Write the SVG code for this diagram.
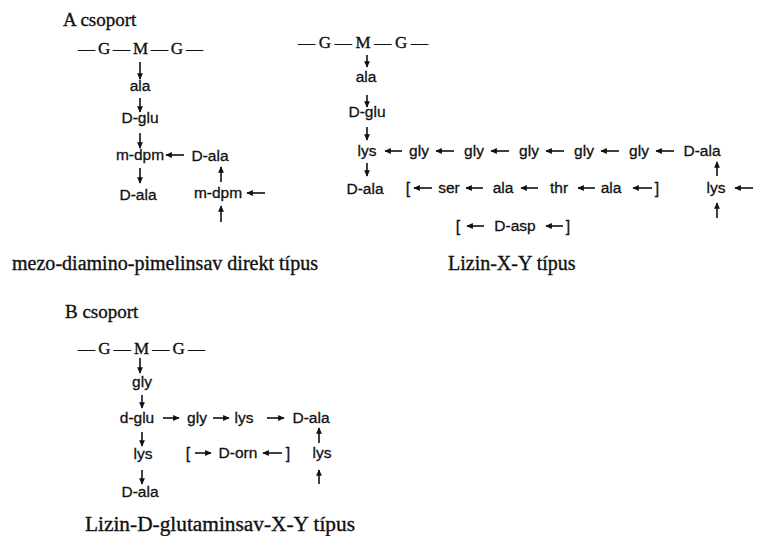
<svg xmlns="http://www.w3.org/2000/svg" width="758" height="536" viewBox="0 0 758 536">
<defs>
<marker id="ah" viewBox="0 0 10 10" refX="9" refY="5" markerWidth="6.5" markerHeight="6.5" markerUnits="userSpaceOnUse" orient="auto">
<path d="M0,0.5 L10,5 L0,9.5 z" fill="#111"/>
</marker>
<style>
.lbl{font-family:"Liberation Sans","DejaVu Sans",sans-serif;font-size:15.5px;fill:#111;stroke:#111;stroke-width:0.3;text-anchor:middle}
.br{font-family:"Liberation Sans","DejaVu Sans",sans-serif;font-size:16px;fill:#111;stroke:#111;stroke-width:0.3;text-anchor:middle}
.ser{font-family:"Liberation Serif","DejaVu Serif",serif;fill:#111;stroke:#111;stroke-width:0.35}
.head{font-size:19px}
.gmg{font-size:17px}
.cap{font-size:20px}
.conn line{stroke:#111;stroke-width:1.6;marker-end:url(#ah)}
</style>
</defs>
<rect width="758" height="536" fill="#fff"/>

<!-- Panel A, left -->
<g id="titleA"><text class="ser head" x="63" y="26">A csoport</text></g>
<g id="gmg1"><text class="ser gmg" x="78" y="54" textLength="125" lengthAdjust="spacing">—G—M—G—</text></g>
<g id="a1_ala"><text class="lbl" x="140" y="91">ala</text></g>
<g id="a1_dglu"><text class="lbl" x="140" y="123">D-glu</text></g>
<g id="a1_mdpm"><text class="lbl" x="140" y="160">m-dpm</text></g>
<g id="a1_dala_r"><text class="lbl" x="210" y="161">D-ala</text></g>
<g id="a1_dala"><text class="lbl" x="138" y="200">D-ala</text></g>
<g id="a1_mdpm_r"><text class="lbl" x="218" y="198">m-dpm</text></g>
<g id="capA1"><text class="ser cap" x="12" y="270" textLength="306" lengthAdjust="spacingAndGlyphs">mezo-diamino-pimelinsav direkt típus</text></g>

<!-- Panel A, right -->
<g id="gmg2"><text class="ser gmg" x="298" y="48" textLength="130" lengthAdjust="spacing">—G—M—G—</text></g>
<g id="a2_ala"><text class="lbl" x="366" y="82">ala</text></g>
<g id="a2_dglu"><text class="lbl" x="367" y="117">D-glu</text></g>
<g id="a2_lys"><text class="lbl" x="367" y="156">lys</text></g>
<g id="a2_gly1"><text class="lbl" x="419" y="156">gly</text></g>
<g id="a2_gly2"><text class="lbl" x="474" y="156">gly</text></g>
<g id="a2_gly3"><text class="lbl" x="529" y="156">gly</text></g>
<g id="a2_gly4"><text class="lbl" x="584" y="156">gly</text></g>
<g id="a2_gly5"><text class="lbl" x="639" y="156">gly</text></g>
<g id="a2_dala_r"><text class="lbl" x="702" y="156">D-ala</text></g>
<g id="a2_dala"><text class="lbl" x="365" y="194">D-ala</text></g>
<g id="a2_bridge1">
<text class="br" x="408" y="194">[</text>
<text class="lbl" x="449" y="193">ser</text>
<text class="lbl" x="503" y="193">ala</text>
<text class="lbl" x="559" y="193">thr</text>
<text class="lbl" x="611" y="193">ala</text>
<text class="br" x="657" y="194">]</text>
</g>
<g id="a2_lys_r"><text class="lbl" x="716" y="193">lys</text></g>
<g id="a2_bridge2">
<text class="br" x="458" y="232">[</text>
<text class="lbl" x="515" y="231">D-asp</text>
<text class="br" x="568" y="232">]</text>
</g>
<g id="capA2"><text class="ser cap" x="448" y="270">Lizin-X-Y típus</text></g>

<!-- Panel B -->
<g id="titleB"><text class="ser head" x="65" y="318">B csoport</text></g>
<g id="gmg3"><text class="ser gmg" x="78" y="354" textLength="127" lengthAdjust="spacing">—G—M—G—</text></g>
<g id="b_gly"><text class="lbl" x="142" y="387">gly</text></g>
<g id="b_dglu"><text class="lbl" x="137" y="423">d-glu</text></g>
<g id="b_gly2"><text class="lbl" x="197" y="423">gly</text></g>
<g id="b_lys2"><text class="lbl" x="244" y="423">lys</text></g>
<g id="b_dala_r"><text class="lbl" x="311" y="423">D-ala</text></g>
<g id="b_lys"><text class="lbl" x="143" y="459">lys</text></g>
<g id="b_bridge">
<text class="br" x="188" y="459">[</text>
<text class="lbl" x="238" y="458">D-orn</text>
<text class="br" x="288" y="459">]</text>
</g>
<g id="b_lys_r"><text class="lbl" x="322" y="458">lys</text></g>
<g id="b_dala"><text class="lbl" x="140" y="497">D-ala</text></g>
<g id="capB"><text class="ser cap" x="85" y="531" textLength="270" lengthAdjust="spacingAndGlyphs">Lizin-D-glutaminsav-X-Y típus</text></g>

<!-- Connectors -->
<g id="connectors" class="conn">
<!-- A left -->
<line x1="140" y1="62" x2="140" y2="79"/>
<line x1="140" y1="98" x2="140" y2="112"/>
<line x1="140" y1="133" x2="140" y2="148"/>
<line x1="184" y1="155" x2="166" y2="155"/>
<line x1="221" y1="182" x2="221" y2="167"/>
<line x1="140" y1="168" x2="140" y2="183"/>
<line x1="265" y1="193" x2="247" y2="193"/>
<line x1="221" y1="222" x2="221" y2="206"/>
<!-- A right -->
<line x1="367" y1="55" x2="367" y2="67"/>
<line x1="367" y1="95" x2="367" y2="107"/>
<line x1="367" y1="127" x2="367" y2="140"/>
<line x1="402" y1="151" x2="385" y2="151"/>
<line x1="454" y1="151" x2="436" y2="151"/>
<line x1="509" y1="151" x2="491" y2="151"/>
<line x1="564" y1="151" x2="546" y2="151"/>
<line x1="619" y1="151" x2="601" y2="151"/>
<line x1="674" y1="151" x2="656" y2="151"/>
<line x1="717" y1="176" x2="717" y2="162"/>
<line x1="367" y1="163" x2="367" y2="176"/>
<line x1="432" y1="188" x2="414" y2="188"/>
<line x1="483" y1="188" x2="466" y2="188"/>
<line x1="538" y1="188" x2="521" y2="188"/>
<line x1="595" y1="188" x2="578" y2="188"/>
<line x1="652" y1="188" x2="633" y2="188"/>
<line x1="753" y1="188" x2="735" y2="188"/>
<line x1="717" y1="218" x2="717" y2="203"/>
<line x1="484" y1="226" x2="467" y2="226"/>
<line x1="563" y1="226" x2="546" y2="226"/>
<!-- B -->
<line x1="140" y1="358" x2="140" y2="373"/>
<line x1="142" y1="395" x2="142" y2="408"/>
<line x1="163" y1="418" x2="179" y2="418"/>
<line x1="213" y1="418" x2="229" y2="418"/>
<line x1="267" y1="418" x2="284" y2="418"/>
<line x1="142" y1="432" x2="142" y2="446"/>
<line x1="319" y1="443" x2="319" y2="428"/>
<line x1="195" y1="453" x2="211" y2="453"/>
<line x1="282" y1="453" x2="263" y2="453"/>
<line x1="142" y1="470" x2="142" y2="484"/>
<line x1="319" y1="484" x2="319" y2="470"/>
</g>
</svg>
